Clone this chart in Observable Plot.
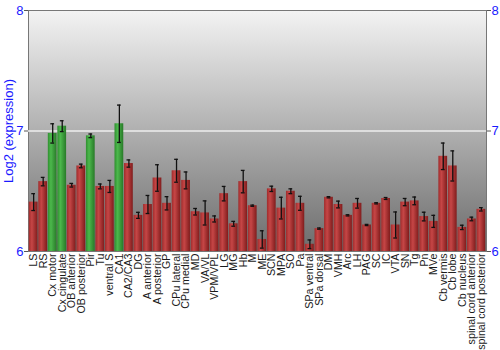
<!DOCTYPE html>
<html>
<head>
<meta charset="utf-8">
<script src="https://cdn.jsdelivr.net/npm/d3@7"></script>
<script src="https://cdn.jsdelivr.net/npm/@observablehq/plot@0.6"></script>
<style>
  html, body { margin: 0; padding: 0; background: #fff; }
  svg { display: block; }
</style>
</head>
<body>
<div id="chart"></div>
<script>
const regions = ["LS","RS","Cx motor","Cx cingulate","OB anterior","OB posterior","Pir","Tu","ventral S","CA1","CA2/CA3","DG","A anterior","A posterior","GP","CPu lateral","CPu medial","MD","VA/VL","VPM/VPL","LG","MG","Hb","M","ME","SCN","MPA","SO","Pa","SPa ventral","SPa dorsal","DM","VMH","Arc","LH","PAG","SC","IC","VTA","SN","Tg","Pn","MVe","Cb vermis","Cb lobe","Cb nucleus","spinal cord anterior","spinal cord posterior"];
const values = [6.41,6.58,6.98,7.04,6.55,6.71,6.96,6.54,6.54,7.06,6.73,6.30,6.39,6.61,6.40,6.67,6.59,6.33,6.32,6.27,6.48,6.23,6.58,6.38,6.10,6.52,6.36,6.50,6.40,6.06,6.19,6.45,6.39,6.30,6.40,6.22,6.40,6.44,6.22,6.41,6.42,6.29,6.25,6.79,6.71,6.20,6.27,6.35];
const errors = [0.07,0.035,0.08,0.045,0.015,0.015,0.015,0.02,0.05,0.155,0.03,0.025,0.075,0.11,0.055,0.095,0.07,0.027,0.1,0.025,0.06,0.02,0.093,0.005,0.072,0.022,0.09,0.02,0.058,0.036,0.005,0.005,0.028,0.005,0.04,0.005,0.005,0.008,0.108,0.03,0.032,0.036,0.05,0.11,0.125,0.018,0.015,0.014];
const highlighted = ["Cx motor","Cx cingulate","Pir","CA1"];
const yTicks = [6, 7, 8];
const baseline = 6;

const data = regions.map((r, i) => ({region: r, value: values[i], err: errors[i], hi: highlighted.includes(r)}));

const blue = "#1a1aff";
const plot = Plot.plot({
  width: 500,
  height: 350,
  marginLeft: 28,
  marginRight: 14,
  marginTop: 10,
  marginBottom: 99,
  style: {fontFamily: "'Liberation Sans', Arial, sans-serif", background: "#fff"},
  x: {domain: regions, padding: 0.08, round: false},
  y: {domain: [6, 8]},
  marks: [
    Plot.frame({fill: "url(#bgGrad)", stroke: "#777"}),
    Plot.ruleY([7], {stroke: "#eeeeee", strokeWidth: 1.5}),
    Plot.barY(data, {x: "region", y1: () => baseline, y2: "value", fill: d => d.hi ? "url(#greenGrad)" : "url(#redGrad)"}),
    Plot.ruleX(data, {x: "region", y1: d => d.value - d.err, y2: d => d.value + d.err, stroke: "#111", strokeWidth: 1.3}),
    Plot.tickY(data, {x: "region", y: d => d.value - d.err, stroke: "#111", strokeWidth: 1.3, insetLeft: 2.5, insetRight: 2.5}),
    Plot.tickY(data, {x: "region", y: d => d.value + d.err, stroke: "#111", strokeWidth: 1.3, insetLeft: 2.5, insetRight: 2.5}),
    Plot.axisY(yTicks, {anchor: "left", ticks: yTicks, tickFormat: d => String(d), tickSize: 4, tickPadding: 1, fontSize: 13, color: blue, stroke: "#555", label: "Log2 (expression)", labelAnchor: "center", labelOffset: 25, labelArrow: "none"}),
    Plot.axisY(yTicks, {anchor: "right", ticks: yTicks, tickFormat: d => String(d), tickSize: 4, tickPadding: 1, fontSize: 13, color: blue, stroke: "#555", label: null}),
    Plot.axisX({tickRotate: -90, tickSize: 0, tickPadding: 2, fontSize: 10.7, color: "#1a1a1a", label: null})
  ]
});

const svg = d3.select(plot);
const defs = svg.insert("defs", ":first-child");
const bg = defs.append("linearGradient").attr("id", "bgGrad").attr("x1", 0).attr("y1", 0).attr("x2", 0).attr("y2", 1);
bg.append("stop").attr("offset", "0%").attr("stop-color", "#f3f3f3");
bg.append("stop").attr("offset", "100%").attr("stop-color", "#6c6c6c");
const red = defs.append("linearGradient").attr("id", "redGrad").attr("x1", 0).attr("y1", 0).attr("x2", 1).attr("y2", 0);
red.append("stop").attr("offset", "0%").attr("stop-color", "#a02c2c");
red.append("stop").attr("offset", "35%").attr("stop-color", "#c64646");
red.append("stop").attr("offset", "100%").attr("stop-color", "#801c1c");
const green = defs.append("linearGradient").attr("id", "greenGrad").attr("x1", 0).attr("y1", 0).attr("x2", 1).attr("y2", 0);
green.append("stop").attr("offset", "0%").attr("stop-color", "#2f8f2f");
green.append("stop").attr("offset", "35%").attr("stop-color", "#4cb84c");
green.append("stop").attr("offset", "100%").attr("stop-color", "#287a28");

document.getElementById("chart").appendChild(plot);
</script>
</body>
</html>
